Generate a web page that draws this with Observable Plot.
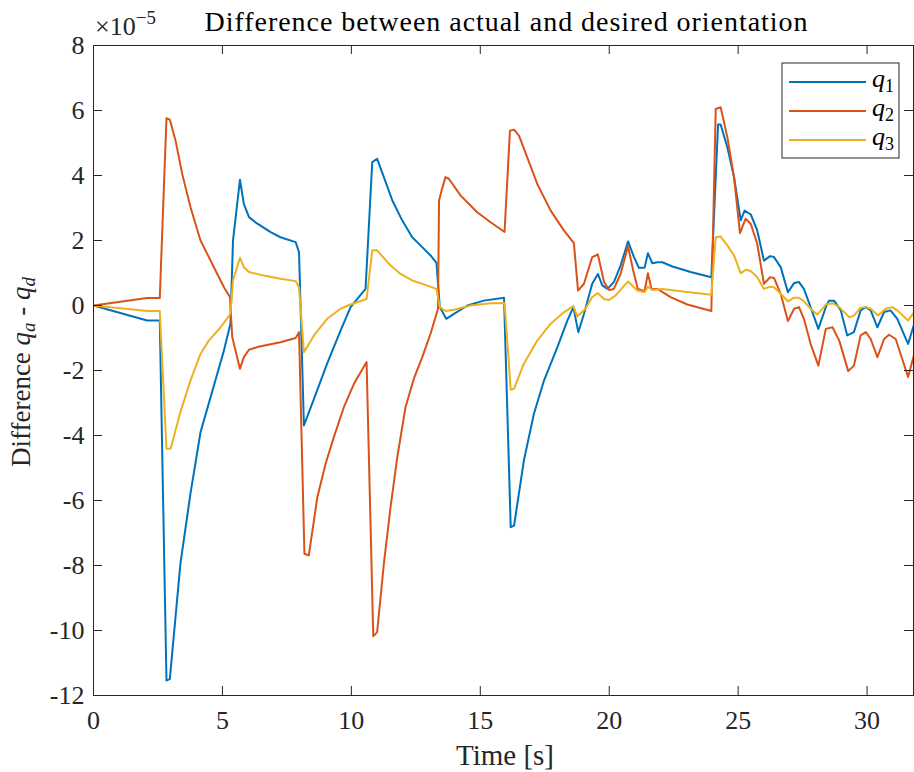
<!DOCTYPE html>
<html>
<head>
<meta charset="utf-8">
<script src="https://cdn.jsdelivr.net/npm/d3@7"></script>
<script src="https://cdn.jsdelivr.net/npm/@observablehq/plot@0.6"></script>
<style>
  html, body { margin: 0; padding: 0; background: #fff; }
  #chart { width: 914px; height: 772px; }
</style>
</head>
<body>
<div id="chart"></div>
<script>
// ---- data (values in units of 1e-5) ----
const seriesNames = ["q1", "q2", "q3"];
const seriesColors = ["#0072BD", "#D95319", "#EDB120"];
const xTicks = [0, 5, 10, 15, 20, 25, 30];
const yTicks = [-12, -10, -8, -6, -4, -2, 0, 2, 4, 6, 8];

const q1Time = [0, 2.08, 2.57, 2.83, 2.96, 3.37, 3.76, 4.15, 4.41, 4.8, 5.06, 5.31, 5.41, 5.68, 5.83, 6.03, 6.28, 6.87, 7.25, 7.84, 7.97, 8.16, 8.55, 9.06, 9.58, 9.97, 10.55, 10.81, 11.0, 11.26, 11.59, 11.97, 12.36, 12.68, 13.07, 13.3, 13.43, 13.68, 13.98, 14.5, 15.14, 15.92, 16.18, 16.31, 16.69, 17.08, 17.47, 17.99, 18.38, 18.61, 18.8, 19.02, 19.34, 19.56, 19.73, 19.93, 20.18, 20.44, 20.73, 20.96, 21.15, 21.37, 21.5, 21.67, 21.87, 22.06, 22.45, 23.16, 23.96, 24.22, 24.32, 24.58, 24.84, 25.1, 25.25, 25.49, 25.74, 26.0, 26.24, 26.39, 26.65, 26.93, 27.17, 27.36, 27.55, 27.81, 28.11, 28.4, 28.52, 28.72, 28.98, 29.23, 29.49, 29.75, 29.95, 30.14, 30.4, 30.66, 30.91, 31.17, 31.59, 31.83];
const q1Values = [0, -0.46, -0.46, -11.54, -11.49, -7.95, -5.79, -3.9, -3.18, -2.1, -1.38, -0.56, 2.0, 3.87, 3.13, 2.72, 2.56, 2.26, 2.1, 1.95, 1.64, -3.69, -2.87, -1.79, -0.77, -0.05, 0.51, 4.41, 4.51, 3.95, 3.23, 2.62, 2.1, 1.85, 1.54, 1.31, -0.05, -0.41, -0.26, 0, 0.15, 0.24, -6.82, -6.77, -4.77, -3.33, -2.31, -1.28, -0.46, -0.05, -0.82, -0.26, 0.67, 0.97, 0.62, 0.51, 0.72, 1.23, 1.97, 1.49, 1.16, 1.16, 1.61, 1.3, 1.33, 1.33, 1.2, 1.03, 0.87, 5.57, 5.57, 4.87, 3.95, 2.62, 2.92, 2.8, 2.31, 1.38, 1.52, 1.49, 1.18, 0.41, 0.69, 0.72, 0.51, -0.05, -0.72, -0.05, 0.15, 0.15, -0.15, -0.92, -0.82, -0.15, -0.05, -0.15, -0.67, -0.2, -0.15, -0.41, -1.18, -0.56];

const q2Time = [0, 2.08, 2.57, 2.83, 2.96, 3.18, 3.44, 3.76, 4.15, 4.41, 4.8, 5.06, 5.29, 5.38, 5.68, 5.83, 6.03, 6.35, 7.25, 7.84, 7.97, 8.18, 8.35, 8.68, 9.0, 9.32, 9.71, 10.1, 10.59, 10.85, 11.0, 11.26, 11.52, 11.78, 12.1, 12.42, 12.75, 13.07, 13.36, 13.4, 13.5, 13.65, 13.78, 14.24, 14.88, 15.4, 15.94, 16.15, 16.31, 16.5, 16.82, 17.21, 17.73, 18.24, 18.63, 18.79, 19.02, 19.34, 19.56, 19.8, 19.99, 20.18, 20.44, 20.73, 20.93, 21.11, 21.37, 21.5, 21.64, 21.87, 22.38, 23.03, 23.96, 24.13, 24.32, 24.58, 24.84, 25.07, 25.29, 25.49, 25.74, 26.0, 26.24, 26.39, 26.65, 26.93, 27.17, 27.36, 27.55, 27.81, 28.11, 28.4, 28.66, 28.92, 29.27, 29.49, 29.75, 29.95, 30.14, 30.4, 30.66, 30.85, 31.11, 31.59, 31.83];
const q2Values = [0, 0.23, 0.23, 5.76, 5.72, 5.08, 4.05, 3.03, 2.0, 1.59, 0.97, 0.56, 0.26, -0.97, -1.95, -1.59, -1.36, -1.28, -1.13, -1.0, -0.82, -7.64, -7.69, -5.9, -4.87, -4.05, -3.13, -2.41, -1.74, -10.18, -10.05, -7.95, -6.2, -4.67, -3.13, -2.26, -1.59, -0.87, -0.1, 3.23, 3.54, 3.95, 3.9, 3.38, 2.87, 2.56, 2.26, 5.38, 5.41, 5.23, 4.56, 3.74, 2.92, 2.31, 1.92, 0.46, 0.67, 1.49, 1.57, 0.72, 0.48, 0.51, 0.97, 1.82, 1.08, 0.51, 0.44, 0.99, 0.51, 0.51, 0.26, 0.03, -0.17, 6.05, 6.1, 5.18, 3.95, 2.23, 2.67, 2.51, 1.9, 0.67, 0.87, 0.85, 0.36, -0.48, -0.1, -0.05, -0.41, -1.18, -1.85, -0.72, -0.67, -1.08, -2.02, -1.85, -0.92, -0.82, -1.03, -1.59, -1.03, -0.9, -1.03, -2.2, -1.49];

const q3Time = [0, 2.08, 2.57, 2.83, 2.99, 3.37, 3.76, 4.15, 4.47, 4.93, 5.31, 5.41, 5.68, 5.83, 6.03, 6.61, 7.25, 7.84, 7.97, 8.16, 8.55, 9.06, 9.58, 9.97, 10.59, 10.81, 10.98, 11.46, 11.91, 12.36, 12.81, 13.3, 13.43, 13.65, 13.98, 14.62, 15.4, 15.94, 16.18, 16.31, 16.69, 17.21, 17.73, 18.24, 18.61, 18.76, 19.08, 19.34, 19.56, 19.8, 19.99, 20.25, 20.73, 21.09, 21.37, 21.5, 21.67, 22.06, 22.77, 23.96, 24.13, 24.32, 24.58, 24.84, 25.1, 25.29, 25.49, 25.74, 26.0, 26.24, 26.39, 26.65, 26.93, 27.17, 27.36, 27.55, 27.81, 28.07, 28.4, 28.66, 28.92, 29.31, 29.49, 29.75, 29.95, 30.14, 30.43, 30.72, 30.98, 31.17, 31.59, 31.83];
const q3Values = [0, -0.17, -0.17, -4.41, -4.41, -3.28, -2.31, -1.49, -1.08, -0.67, -0.26, 0.77, 1.47, 1.18, 1.03, 0.92, 0.82, 0.75, 0.56, -1.44, -0.92, -0.41, -0.1, 0.03, 0.2, 1.69, 1.71, 1.28, 0.97, 0.77, 0.65, 0.51, -0.05, -0.17, -0.13, 0.0, 0.07, 0.08, -2.59, -2.56, -1.79, -1.08, -0.56, -0.21, -0.02, -0.34, -0.1, 0.26, 0.38, 0.2, 0.17, 0.31, 0.74, 0.46, 0.41, 0.58, 0.48, 0.51, 0.44, 0.33, 2.1, 2.12, 1.85, 1.54, 0.99, 1.1, 1.06, 0.87, 0.51, 0.58, 0.56, 0.36, 0.13, 0.24, 0.24, 0.13, -0.1, -0.28, 0.03, 0.07, -0.05, -0.36, -0.31, -0.07, -0.05, -0.1, -0.31, -0.1, -0.05, -0.15, -0.46, -0.2];

// ---- build table ----
const times = [q1Time, q2Time, q3Time];
const vals = [q1Values, q2Values, q3Values];
const rows = [];
seriesNames.forEach((name, i) => {
  times[i].forEach((t, j) => rows.push({series: name, t, v: vals[i][j]}));
});

// ---- layout ----
const W = 914, H = 772;
const mL = 93, mR = 1, mT = 45, mB = 77;
const fw = W - mL - mR, fh = H - mT - mB;
const tickLen = 9;
const axisColor = "#262626";
const fontFam = "Liberation Serif";

const svg = Plot.plot({
  width: W, height: H,
  marginLeft: mL, marginRight: mR, marginTop: mT, marginBottom: mB,
  style: {fontFamily: fontFam, fontSize: "26px", color: axisColor, background: "#fff", overflow: "visible"},
  x: {domain: [0, 31.8]},
  y: {domain: [-12, 8]},
  color: {domain: seriesNames, range: seriesColors},
  marks: [
    Plot.line(rows, {x: "t", y: "v", z: "series", stroke: "series", strokeWidth: 2, clip: true}),
    Plot.frame({stroke: axisColor, strokeWidth: 1}),
    Plot.tickX(xTicks, {x: d => d, insetTop: fh - tickLen, stroke: axisColor}),
    Plot.tickX(xTicks, {x: d => d, insetBottom: fh - tickLen, stroke: axisColor}),
    Plot.tickY(yTicks, {y: d => d, insetRight: fw - tickLen, stroke: axisColor}),
    Plot.tickY(yTicks, {y: d => d, insetLeft: fw - tickLen, stroke: axisColor}),
    Plot.axisX({ticks: xTicks, tickSize: 0, tickPadding: 15, tickFormat: d => String(d), label: null, fontSize: 26, fontFamily: fontFam}),
    Plot.axisY({ticks: yTicks, tickSize: 0, tickPadding: 9, tickFormat: d => String(d), label: null, fontSize: 26, fontFamily: fontFam})
  ]
});
document.getElementById("chart").appendChild(svg);

// ---- annotations: title, labels, exponent, legend ----
const s = d3.select(svg);
s.append("text")
  .attr("x", 506).attr("y", 31)
  .attr("text-anchor", "middle")
  .attr("font-size", 28).attr("fill", "#000")
  .attr("textLength", 603).attr("lengthAdjust", "spacing")
  .text("Difference between actual and desired orientation");

s.append("text")
  .attr("x", 505).attr("y", 765)
  .attr("text-anchor", "middle")
  .attr("font-size", 29).attr("fill", axisColor)
  .text("Time [s]");

const yl = s.append("text")
  .attr("transform", "translate(30,372) rotate(-90)")
  .attr("text-anchor", "middle")
  .attr("font-size", 27).attr("fill", axisColor);
yl.append("tspan").text("Difference ");
yl.append("tspan").attr("font-style", "italic").text("q");
yl.append("tspan").attr("font-style", "italic").attr("font-size", 19).attr("dy", 5).text("a");
yl.append("tspan").attr("dy", -5).text(" - ");
yl.append("tspan").attr("font-style", "italic").text("q");
yl.append("tspan").attr("font-style", "italic").attr("font-size", 19).attr("dy", 5).text("d");

const ex = s.append("text")
  .attr("x", 95).attr("y", 35)
  .attr("text-anchor", "start")
  .attr("font-size", 26).attr("fill", axisColor);
ex.append("tspan").text("×10");
ex.append("tspan").attr("font-size", 19).attr("dy", -11).text("−5");

// legend
const lg = s.append("g");
lg.append("rect").attr("x", 782).attr("y", 63).attr("width", 117).attr("height", 95)
  .attr("fill", "#fff").attr("stroke", axisColor).attr("stroke-width", 1);
const legY = [82, 111, 140];
seriesNames.forEach((name, i) => {
  lg.append("line").attr("x1", 789).attr("x2", 866).attr("y1", legY[i]).attr("y2", legY[i])
    .attr("stroke", seriesColors[i]).attr("stroke-width", 2);
  const t = lg.append("text").attr("x", 872).attr("y", legY[i] + 5)
    .attr("text-anchor", "start").attr("font-size", 26).attr("fill", "#000");
  t.append("tspan").attr("font-style", "italic").text("q");
  t.append("tspan").attr("font-size", 18).attr("dy", 5).text(String(i + 1));
});

// serif face on every text via presentation attributes
s.attr("font-family", fontFam);
s.selectAll("text").attr("font-family", fontFam);
</script>
</body>
</html>
